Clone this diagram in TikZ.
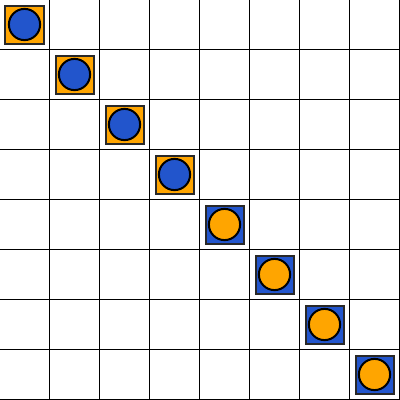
\documentclass[tikz,border=0pt]{standalone}
\definecolor{myorange}{RGB}{255,165,0}
\definecolor{myblue}{RGB}{34,85,204}
\definecolor{edge}{RGB}{40,40,40}
\tikzset{
  gridline/.style={black, line width=0.25mm},
  tile/.style={draw=edge, line width=0.5mm},
  disc/.style={draw=black, line width=0.5mm}
}
\begin{document}
\begin{tikzpicture}[x=0.25mm,y=-0.25mm]
\useasboundingbox (0,0) rectangle (400,400);
\begin{scope}
\clip (0,0) rectangle (400,400);
\foreach \i in {1,...,8}{
  \draw[gridline] (\i*50-0.5,0) -- (\i*50-0.5,400);
  \draw[gridline] (0,\i*50-0.5) -- (400,\i*50-0.5);
}
\end{scope}
\foreach \i in {0,...,3}{
  \node[tile, fill=myorange, minimum size=9.5mm, inner sep=0pt, shape=rectangle] (s\i) at (\i*50+24.5,\i*50+24.5) {};
  \node[disc, fill=myblue, circle, minimum size=7.8mm, inner sep=0pt] (c\i) at (s\i.center) {};
}
\foreach \i in {4,...,7}{
  \node[tile, fill=myblue, minimum size=9.5mm, inner sep=0pt, shape=rectangle] (s\i) at (\i*50+24.5,\i*50+24.5) {};
  \node[disc, fill=myorange, circle, minimum size=7.8mm, inner sep=0pt] (c\i) at (s\i.center) {};
}
\end{tikzpicture}
\end{document}
